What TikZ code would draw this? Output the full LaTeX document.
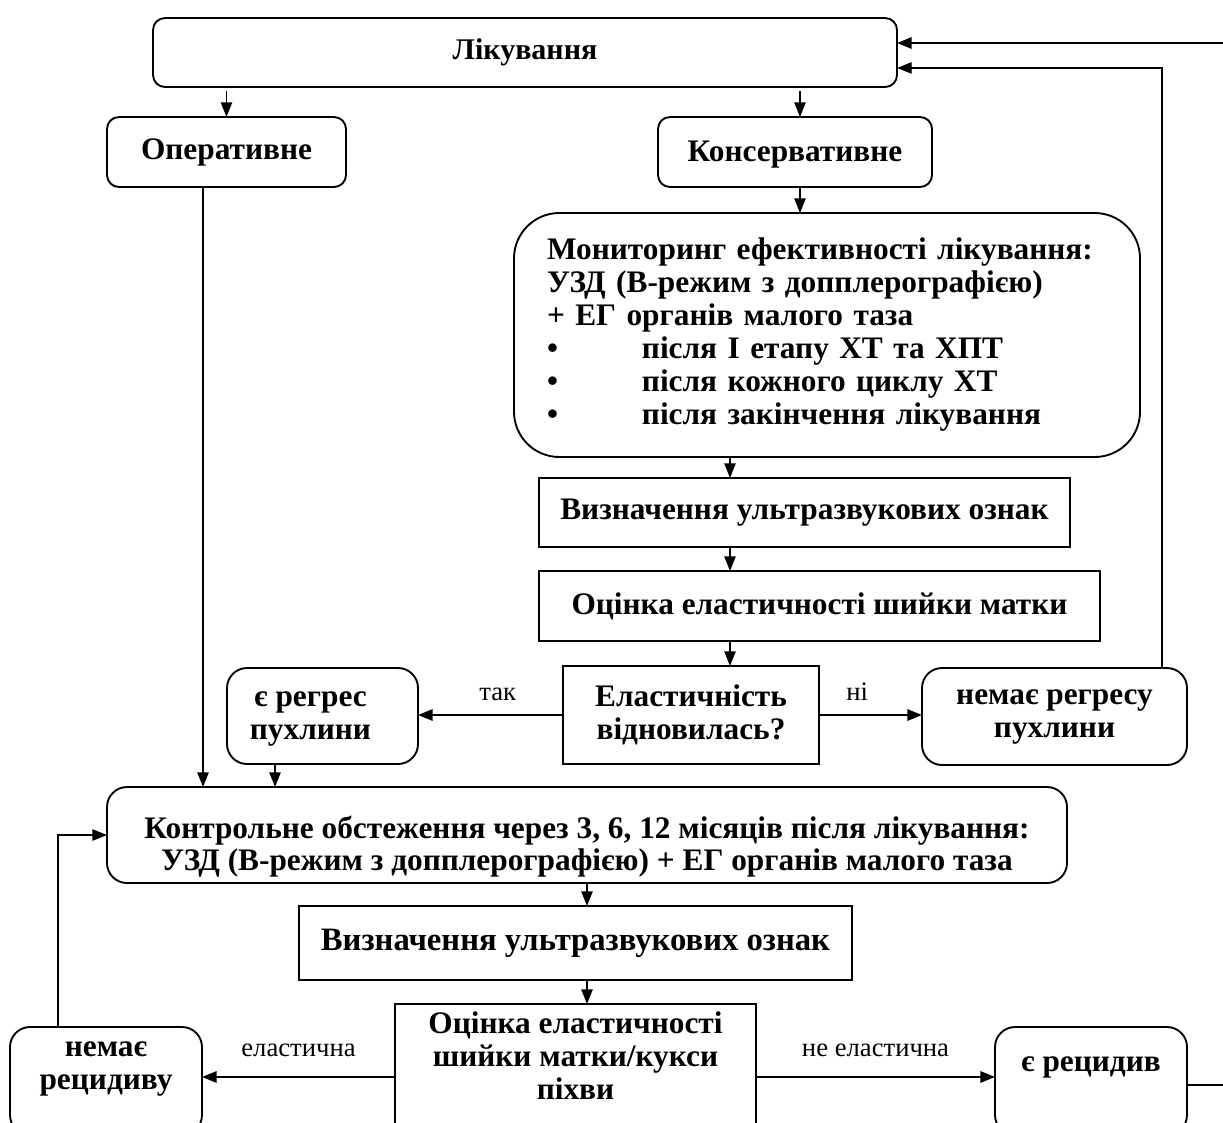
\documentclass[tikz,border=0pt]{standalone}
\usepackage{fontspec}
\setmainfont{Liberation Serif}
\usetikzlibrary{arrows.meta}
\newcommand\padbox[3]{\raisebox{0pt}[\dimexpr\height+#1\relax][\dimexpr\depth+#2\relax]{\begin{tabular}{@{}c@{}}#3\end{tabular}}}
\begin{document}
\begin{tikzpicture}[x=0.75pt,y=-0.75pt,
  boxbase/.style={draw, line width=1.4pt, inner sep=0pt, outer sep=0pt,
    font=\fontsize{23.5}{24.75}\selectfont\bfseries, align=center},
  rbox/.style={boxbase, rounded corners=9pt},
  sbox/.style={boxbase},
  thinarr/.style={line width=1pt, -{Triangle[length=11pt,width=8.5pt]}},
  thickarr/.style={line width=1.6pt, -{Triangle[length=11pt,width=8.5pt]}},
  lbl/.style={font=\fontsize{20}{22}\selectfont, inner sep=0pt}]
\useasboundingbox (0,0) rectangle (1223,1122);

\node[rbox, minimum width=558pt, minimum height=51.75pt, font=\fontsize{22.5}{24.75}\selectfont\bfseries] (lik) at (525,52.5) {Лікування};
\node[rbox, minimum width=179.25pt, minimum height=52.5pt] (op) at (226.5,152) {Оперативне};
\node[rbox, minimum width=205.5pt, minimum height=52.5pt] (kons) at (795,152) {\padbox{4pt}{0pt}{Консервативне}};
\node[rbox, rounded corners=34pt, text width=420pt, inner xsep=24.75pt,
  minimum height=183pt, align=left] (mon) at (827,335)
  {Мониторинг ефективності лікування:\\
   УЗД (В-режим з допплерографією)\\
   + ЕГ органів малого таза\\
   \makebox[71.25pt][l]{•}після І етапу ХТ та ХПТ\\
   \makebox[71.25pt][l]{•}після кожного циклу ХТ\\
   \makebox[71.25pt][l]{•}після закінчення лікування};
\node[sbox, minimum width=398.25pt, minimum height=51.75pt] (viz1) at (804.5,512.5) {Визначення ультразвукових ознак};
\node[sbox, minimum width=420.75pt, minimum height=52.5pt] (ots1) at (819.5,606) {Оцінка еластичності шийки матки};
\node[sbox, minimum width=192pt, minimum height=73.5pt] (el) at (691,715) {Еластичність\\відновилась?};
\node[rbox, rounded corners=15pt, minimum width=143.25pt, minimum height=72pt] (reg) at (322.5,716) {\padbox{0pt}{0pt}{є регрес\\пухлини}\hspace*{18pt}};
\node[rbox, rounded corners=15pt, minimum width=198.75pt, minimum height=72.75pt] (nreg) at (1054.5,716.5) {немає регресу\\пухлини};
\node[rbox, rounded corners=15pt, minimum width=720pt, minimum height=72pt] (kontr) at (587,835)
  {\padbox{19.5pt}{0pt}{Контрольне обстеження через 3, 6, 12 місяців після лікування:\\[-0.75pt]
   УЗД (В-режим з допплерографією) + ЕГ органів малого таза}};
\node[sbox, minimum width=414.75pt, minimum height=55.5pt, font=\fontsize{24.5}{24.75}\selectfont\bfseries] (viz2) at (575.5,943) {Визначення ультразвукових ознак};
\node[sbox, minimum width=270.75pt, minimum height=98.25pt] (ots2) at (575.5,1069.5)
  {\padbox{0pt}{14.25pt}{Оцінка еластичності\\шийки матки/кукси\\піхви}};
\node[rbox, rounded corners=15pt, minimum width=144pt, minimum height=81pt] (nrec) at (106,1081)
  {\padbox{0pt}{22.5pt}{немає\\рецидиву}};
\node[rbox, rounded corners=15pt, minimum width=144pt, minimum height=81pt] (rec) at (1091,1081)
  {\padbox{0pt}{24pt}{є рецидив}};

\coordinate (loopx) at (1245,0);
\coordinate (retx) at (1162,0);

% top level
\draw[thinarr, shorten <=3pt] (lik.south -| op.north) -- (op.north);
\draw[thinarr, shorten <=3pt] ([xshift=3.75pt]kons.north |- lik.south) -- ([xshift=3.75pt]kons.north);
\draw[thinarr] ([xshift=-17.6pt]op.south) -- ([xshift=-17.6pt]op.south |- kontr.north);
\draw[thinarr] ([xshift=3.75pt]kons.south) -- ([xshift=3.75pt]kons.south |- mon.north);
\draw[thinarr] ([xshift=-72.75pt]mon.south) -- ([xshift=-72.75pt]mon.south |- viz1.north);
\draw[thinarr] ([xshift=-72.75pt]mon.south |- viz1.south) -- ([xshift=-72.75pt]mon.south |- ots1.north);
\draw[thinarr] ([xshift=-72.75pt]mon.south |- ots1.south) -- ([xshift=-72.75pt]mon.south |- el.north);

% decision
\draw[thickarr] (el.west) -- node[lbl, pos=0.45, above, yshift=10pt] {так} (el.west -| reg.east);
\draw[thickarr] (el.east) -- node[lbl, pos=0.37, above, yshift=10pt] {ні} (el.east -| nreg.west);
\draw[thinarr] (nreg.north -| retx) |- ([yshift=-11.6pt]lik.east);
\draw[thinarr] ([xshift=-35.6pt]reg.south) -- ([xshift=-35.6pt]reg.south |- kontr.north);

% control
\draw[thinarr] (kontr.south) -- (kontr.south |- viz2.north);
\draw[thinarr] (kontr.south |- viz2.south) -- (kontr.south |- ots2.north);
\draw[thickarr] ([yshift=-5.6pt]ots2.west) -- node[lbl, pos=0.5, above, yshift=14pt] {еластична} ([yshift=-5.6pt]ots2.west -| nrec.east);
\draw[thickarr] ([yshift=-5.6pt]ots2.east) -- node[lbl, pos=0.5, above, yshift=14pt] {не еластична} ([yshift=-5.6pt]ots2.east -| rec.west);
\draw[thinarr] ([xshift=-36pt]nrec.north) |- (kontr.west);
\draw[thickarr] ([yshift=-3pt]rec.east) -| (loopx) |- ([yshift=7.1pt]lik.east);
\end{tikzpicture}
\end{document}
